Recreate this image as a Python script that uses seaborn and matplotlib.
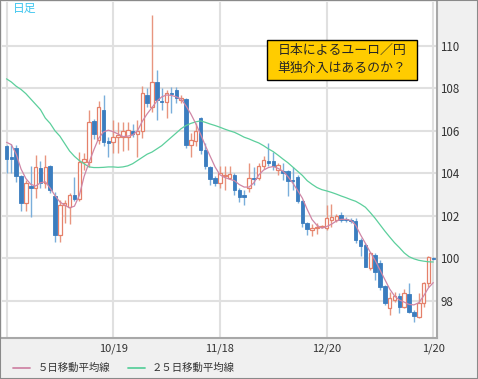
import matplotlib
matplotlib.use('Agg')
import matplotlib.pyplot as plt
from matplotlib.patches import Rectangle
from matplotlib.lines import Line2D
import numpy as np
import pandas as pd
import seaborn as sns

# EUR/JPY daily candles, 2011-09-19 .. 2012-01-20 (no bar on 12/26)
dates = pd.bdate_range('2011-09-19', '2012-01-20').drop(pd.Timestamp('2011-12-26'))

opens = [105.29, 104.75, 105.18, 103.85, 102.62, 103.40, 103.30, 104.24, 103.56, 104.35,
         102.93, 101.09, 102.50, 102.43, 102.98, 102.78, 104.55, 104.55, 106.48, 105.57,
         107.00, 105.50, 105.48, 105.70, 105.73, 105.70, 106.00, 105.85, 106.00, 107.69,
         107.14, 108.32, 107.42, 107.38, 107.80, 107.93, 107.45, 107.49, 105.34, 105.54,
         106.59, 105.10, 104.29, 103.77, 103.53, 103.85, 103.77, 103.92, 103.22, 102.98,
         103.30, 103.80, 103.77, 104.32, 104.60, 104.60, 104.15, 104.10, 104.10, 103.70,
         103.84, 102.71, 101.65, 101.33, 101.40, 101.45, 101.41, 101.80, 101.80, 102.04,
         101.85, 101.82, 101.77, 100.86, 100.62, 99.53, 100.15, 99.76, 98.69, 97.64,
         98.03, 98.22, 97.72, 98.32, 97.48, 97.25, 97.88, 98.82, 100.00]
highs = [105.35, 105.40, 105.33, 103.90, 103.69, 104.32, 104.86, 104.60, 104.86, 104.40,
         103.13, 102.74, 102.74, 103.05, 103.84, 105.02, 104.94, 107.00, 106.55, 107.42,
         107.69, 105.70, 106.51, 106.40, 106.40, 106.43, 106.30, 106.51, 108.11, 108.00,
         111.46, 108.87, 108.00, 107.93, 108.08, 108.05, 107.70, 107.55, 105.89, 106.36,
         106.64, 105.42, 104.35, 103.85, 104.32, 104.32, 104.32, 104.00, 103.30, 103.22,
         104.47, 104.30, 104.50, 104.80, 105.42, 105.02, 104.50, 104.47, 104.16, 104.30,
         103.90, 102.74, 101.70, 101.60, 101.65, 101.57, 102.51, 102.55, 102.10, 102.19,
         101.96, 101.88, 101.88, 100.94, 100.70, 100.31, 100.23, 99.92, 98.74, 98.43,
         98.43, 98.35, 98.54, 98.82, 97.56, 98.35, 98.90, 100.11, 100.05]
lows = [104.00, 104.00, 103.60, 102.20, 102.20, 101.96, 102.82, 103.30, 103.30, 103.06,
        100.78, 100.78, 101.64, 101.61, 102.70, 102.70, 104.15, 104.30, 105.60, 105.40,
        105.30, 104.78, 104.94, 104.95, 105.07, 105.10, 105.70, 104.78, 105.65, 107.10,
        106.90, 106.51, 106.99, 106.59, 106.83, 107.30, 107.30, 105.20, 104.79, 105.30,
        104.90, 104.19, 103.45, 103.41, 103.30, 103.22, 103.77, 102.98, 102.67, 102.51,
        103.14, 103.45, 103.70, 104.20, 104.32, 104.16, 103.90, 103.70, 102.95, 103.20,
        102.60, 101.49, 101.10, 101.05, 101.15, 101.40, 101.33, 101.49, 101.72, 101.72,
        101.72, 101.65, 100.70, 100.08, 99.57, 99.45, 98.98, 98.51, 97.80, 97.33,
        97.95, 97.40, 97.64, 97.43, 97.01, 97.17, 97.72, 98.66, 99.90]
closes = [104.67, 104.65, 103.85, 102.62, 103.53, 103.30, 104.28, 103.53, 104.31, 103.21,
          101.09, 102.50, 102.60, 102.98, 102.78, 104.55, 104.67, 106.43, 105.85, 107.14,
          105.49, 105.44, 105.70, 105.82, 106.00, 106.04, 105.85, 106.00, 107.77, 107.30,
          108.32, 107.46, 107.36, 107.77, 107.74, 107.54, 107.55, 105.34, 105.57, 106.01,
          105.10, 104.32, 103.72, 103.53, 104.00, 103.92, 103.96, 103.22, 102.90, 102.90,
          103.77, 103.72, 104.32, 104.63, 104.50, 104.32, 104.40, 104.00, 103.65, 103.62,
          102.71, 101.65, 101.36, 101.44, 101.49, 101.50, 101.88, 101.92, 102.00, 101.80,
          101.78, 101.74, 100.86, 100.58, 99.60, 100.23, 99.37, 98.66, 97.88, 98.11,
          98.24, 97.72, 98.35, 97.48, 97.28, 97.88, 98.82, 100.05, 99.95]

# moving averages as drawn on the chart
ma5 = [105.46, 105.35, 104.90, 104.20, 103.75, 103.48, 103.40, 103.55, 103.60, 103.30,
       102.95, 102.65, 102.50, 102.37, 102.45, 102.95, 103.85, 104.50, 105.10, 105.65,
       105.95, 106.03, 105.96, 105.85, 105.73, 105.75, 105.80, 106.00, 106.45, 106.80,
       107.10, 107.40, 107.60, 107.69, 107.67, 107.60, 107.50, 107.18, 106.80, 106.35,
       105.85, 105.30, 104.80, 104.30, 103.93, 103.80, 103.72, 103.65, 103.47, 103.35,
       103.35, 103.55, 103.92, 104.15, 104.27, 104.32, 104.23, 104.10, 103.85, 103.55,
       103.20, 102.83, 102.30, 101.82, 101.55, 101.42, 101.49, 101.60, 101.75, 101.83,
       101.83, 101.78, 101.55, 101.10, 100.70, 100.28, 99.90, 99.45, 99.00, 98.55,
       98.22, 98.03, 97.93, 97.82, 97.80, 97.90, 98.22, 98.60, 98.85]
ma25 = [108.45, 108.30, 108.10, 107.95, 107.75, 107.50, 107.25, 107.00, 106.60, 106.35,
        106.00, 105.75, 105.40, 105.05, 104.80, 104.60, 104.45, 104.30, 104.27, 104.27,
        104.28, 104.30, 104.30, 104.28, 104.30, 104.35, 104.45, 104.60, 104.75, 104.90,
        105.00, 105.15, 105.30, 105.50, 105.70, 105.90, 106.10, 106.25, 106.35, 106.42,
        106.47, 106.40, 106.32, 106.25, 106.17, 106.08, 106.00, 105.93, 105.82, 105.70,
        105.62, 105.52, 105.43, 105.30, 105.15, 105.02, 104.85, 104.67, 104.50, 104.30,
        104.10, 103.90, 103.65, 103.48, 103.33, 103.23, 103.17, 103.10, 103.02, 102.93,
        102.85, 102.76, 102.68, 102.55, 102.40, 102.15, 101.88, 101.58, 101.28, 101.00,
        100.73, 100.50, 100.25, 100.07, 99.97, 99.90, 99.86, 99.83, 99.82]

grid_dates = ['2011-09-19', '2011-10-19', '2011-11-18', '2011-12-20', '2012-01-20']
grid_labels = ['', '10/19', '11/18', '12/20', '1/20']
y_ticks = [98, 100, 102, 104, 106, 108, 110]

df = pd.DataFrame({'date': dates, 'open': opens, 'high': highs, 'low': lows,
                   'close': closes, 'ma5': ma5, 'ma25': ma25})
df['idx'] = np.arange(len(df))

sns.set_style('white')
plt.rcParams['font.family'] = ['Noto Sans CJK JP', 'DejaVu Sans']

W, H = 478, 379
fig = plt.figure(figsize=(W / 100, H / 100), dpi=100, facecolor='#f0f0f0')
ax = fig.add_axes([2 / W, (H - 338.3) / H, 434.7 / W, 336.3 / H])
ax.set_facecolor('white')

RED, RED_W = '#e5806a', '#e8957f'
BLUE, BLUE_W = '#3b7dbf', '#7aaedb'
PINK, GREEN = '#cf86a6', '#5ccf9c'

# grid
for d in grid_dates:
    ax.axvline(df.index[df['date'] == pd.Timestamp(d)][0], color='#e0e0e0', lw=1.5, zorder=0)
for v in y_ticks:
    ax.axhline(v, color='#e0e0e0', lw=1.5, zorder=0)

# candles
up = df[df['close'] >= df['open']]
dn = df[df['close'] < df['open']]
ax.vlines(up['idx'], up['low'], up['high'], color=RED_W, lw=1.0, zorder=2)
ax.vlines(dn['idx'], dn['low'], dn['high'], color=BLUE_W, lw=1.0, zorder=2)
ax.bar(up['idx'], np.maximum(up['close'] - up['open'], 0.04), bottom=up['open'],
       width=0.72, facecolor='white', edgecolor=RED, lw=0.9, zorder=3)
ax.bar(dn['idx'], np.maximum(dn['open'] - dn['close'], 0.04), bottom=dn['close'],
       width=0.72, facecolor=BLUE, edgecolor=BLUE, lw=0.6, zorder=3)

# moving averages
sns.lineplot(data=df, x='idx', y='ma25', color=GREEN, lw=0.9, ax=ax, zorder=4)
sns.lineplot(data=df, x='idx', y='ma5', color=PINK, lw=0.9, ax=ax, zorder=4)

ax.set_xlim(-0.93, 88.7)
ax.set_ylim(96.225, 112.07)
ax.set_xlabel('')
ax.set_ylabel('')

tick_idx = [df.index[df['date'] == pd.Timestamp(d)][0] for d in grid_dates]
ax.set_xticks(tick_idx)
ax.set_xticklabels(grid_labels)
ax.yaxis.tick_right()
ax.set_yticks(y_ticks)
ax.set_yticklabels([str(v) for v in y_ticks])
ax.tick_params(axis='x', length=0, pad=4, labelsize=8, labelcolor='#333333')
ax.tick_params(axis='y', length=0, pad=2.5, labelsize=8.3, labelcolor='#333333')
for s in ['left', 'top']:
    ax.spines[s].set_visible(False)
for s in ['right', 'bottom']:
    ax.spines[s].set_color('#a8a8a8')
    ax.spines[s].set_linewidth(1.5)

# header / note box
fig.text(13 / W, 1 - 8.5 / H, '日足', color='#3fc6ef', fontsize=8.5, va='center')
fig.add_artist(Rectangle((267.3 / W, 1 - 80 / H), 149.4 / W, 40 / H,
                         transform=fig.transFigure, facecolor='#ffcc00',
                         edgecolor='black', lw=1.0, zorder=5))
fig.text(342 / W, 1 - 50 / H, '日本によるユーロ／円', fontsize=9.3,
         ha='center', va='center', zorder=6)
fig.text(342 / W, 1 - 68 / H, '単独介入はあるのか？', fontsize=9.3,
         ha='center', va='center', zorder=6)

# legend
ly = 1 - 368 / H
fig.add_artist(Line2D([13 / W, 30 / W], [ly, ly], transform=fig.transFigure, color=PINK, lw=1.3))
fig.text(38 / W, ly, '５日移動平均線', fontsize=7.5, va='center', color='#333333')
fig.add_artist(Line2D([128 / W, 145 / W], [ly, ly], transform=fig.transFigure, color=GREEN, lw=1.3))
fig.text(152 / W, ly, '２５日移動平均線', fontsize=7.5, va='center', color='#333333')

# outer frame
fig.add_artist(Rectangle((0, 0), 1, 1, transform=fig.transFigure, fill=False,
                         edgecolor='#8a8a8a', lw=1.5))

fig.savefig('out.png', dpi=100, facecolor=fig.get_facecolor())
